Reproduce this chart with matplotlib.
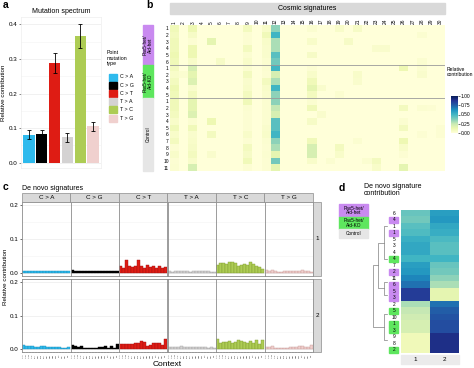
import numpy as np
import matplotlib.pyplot as plt
from matplotlib.patches import Rectangle

plt.rcParams['font.family'] = ['Liberation Sans', 'DejaVu Sans']

W, H = 474, 368

# ---- a: mutation spectrum ----
mut_types = ['C > A', 'C > G', 'C > T', 'T > A', 'T > C', 'T > G']
mut_colors = ['#2EBAED', '#000000', '#DE1C14', '#D4D2D2', '#ADCC54', '#F0D0CE']
spectrum = [0.081, 0.082, 0.289, 0.074, 0.366, 0.105]
spectrum_err = [0.0135, 0.014, 0.029, 0.0135, 0.034, 0.012]

# ---- b: cosmic signature contributions (22 samples x 30 signatures) ----
b_group_names = ['Pax5-het/\nAid-het', 'Pax5-het/\nAid-KO', 'Control']
b_group_sizes = [6, 5, 11]
b_row_labels = [str(i) for i in range(1, 7)] + [str(i) for i in range(1, 6)] + \
    [str(i) for i in range(1, 12)]
sig1 = [0.10, 0.08, 0.10, 0.10, 0.12, 0.10, 0.08, 0.05, 0.08, 0.12, 0.10,
        0.10, 0.10, 0.08, 0.05, 0.10, 0.05, 0.08, 0.02, 0.05, 0.02, 0.03]
sig3 = [0.12, 0.06, 0.02, 0.12, 0.12, 0.05, 0.20, 0.15, 0.18, 0.04, 0.08,
        0.15, 0.15, 0.18, 0.03, 0.10, 0.04, 0.05, 0.06, 0.08, 0.05, 0.20]
sig5 = [0, 0, 0.15, 0, 0, 0, 0, 0, 0, 0, 0,
        0, 0, 0, 0.12, 0, 0.08, 0, 0, 0.04, 0, 0]
sig9 = [0.08, 0.02, 0.02, 0.08, 0.03, 0.05, 0.03, 0.08, 0.04, 0.05, 0.08,
        0.10, 0.03, 0.02, 0.02, 0.02, 0.05, 0.02, 0.08, 0.06, 0.10, 0.02]
sig11 = [0.05, 0.10, 0.05, 0.04, 0.04, 0.03, 0.03, 0.02, 0.08, 0.05, 0.04,
         0.03, 0.03, 0.03, 0.03, 0.04, 0.05, 0.03, 0.02, 0.03, 0.02, 0.02]
sig12 = [0.35, 0.50, 0.30, 0.30, 0.45, 0.40, 0.50, 0.20, 0.30, 0.50, 0.35,
         0.35, 0.25, 0.20, 0.45, 0.45, 0.50, 0.35, 0.30, 0.15, 0.40, 0.15]
sig16 = [0.03, 0, 0.05, 0, 0.06, 0, 0.02, 0.05, 0.10, 0.15, 0.08,
         0.03, 0.10, 0, 0.06, 0, 0, 0.10, 0.20, 0.20, 0.05, 0]
sig26 = [0, 0, 0, 0, 0, 0, 0.12, 0, 0, 0, 0,
         0, 0.08, 0, 0.03, 0.08, 0, 0.12, 0.05, 0.02, 0, 0.15]
# scattered small contributions: (row, signature): value
sig_minor = {(7, 2): 0.03, (5, 6): 0.06, (9, 17): 0.04, (13, 17): 0.04,
             (20, 18): 0.03, (0, 19): 0.05, (10, 19): 0.03, (18, 19): 0.08,
             (19, 19): 0.05, (2, 20): 0.06, (0, 21): 0.06, (7, 21): 0.05,
             (8, 21): 0.04, (17, 21): 0.03, (20, 22): 0.03, (3, 23): 0.04,
             (20, 23): 0.08, (21, 23): 0.05, (3, 24): 0.04, (1, 28): 0.03,
             (5, 28): 0.03, (6, 28): 0.03, (7, 28): 0.04, (12, 28): 0.03,
             (16, 28): 0.02, (12, 29): 0.02, (15, 30): 0.02, (16, 30): 0.02}

# ---- c: de novo signatures (96 trinucleotide profile) ----
sig_profile_1 = {
    'C > A': [.005, .005, .004, .005, .005, .006, .005, .006, .005, .005, .004, .005, .004, .004, .005, .005],
    'C > G': [.008, .005, .004, .006, .004, .005, .004, .005, .004, .004, .005, .004, .004, .004, .004, .006],
    'C > T': [.019, .014, .039, .019, .016, .021, .039, .019, .015, .024, .017, .019, .013, .019, .015, .016],
    'T > A': [.004, .003, .005, .005, .004, .006, .005, .003, .004, .004, .006, .005, .004, .004, .003, .003],
    'T > C': [.023, .028, .030, .027, .031, .031, .028, .020, .022, .025, .024, .031, .026, .020, .016, .012],
    'T > G': [.008, .006, .007, .004, .003, .003, .004, .005, .004, .006, .005, .004, .007, .004, .004, .003],
}
sig_profile_2 = {
    'C > A': [.012, .008, .007, .007, .006, .006, .007, .007, .005, .006, .004, .005, .004, .003, .002, .005],
    'C > G': [.012, .008, .006, .008, .003, .001, .001, .003, .003, .004, .004, .007, .003, .007, .003, .014],
    'C > T': [.015, .013, .014, .015, .015, .018, .017, .022, .020, .009, .012, .016, .017, .016, .012, .028],
    'T > A': [.006, .004, .006, .005, .007, .006, .004, .004, .006, .005, .004, .006, .004, .002, .004, .002],
    'T > C': [.028, .018, .020, .020, .022, .018, .020, .025, .022, .020, .018, .022, .018, .025, .015, .027],
    'T > G': [.006, .004, .008, .003, .002, .002, .003, .003, .004, .004, .006, .008, .008, .006, .005, .011],
}
bases = ['A', 'C', 'G', 'T']
contexts = [f'{a}.{b}' for a in bases for b in bases]
edge_colors = ['#1A8DBA', '#000000', '#A01010', '#A0A0A0', '#7F9A30', '#C89A98']

# ---- d: de novo signature contribution ----
d_labels = ['6', '4', '1', '1', '5', '3', '4', '4', '7', '2', '11',
            '6', '5', '3', '2', '5', '10', '1', '3', '9', '8', '2']
d_groups = ['C', 'H', 'C', 'H', 'C', 'C', 'C', 'K', 'C', 'H', 'C',
            'H', 'H', 'H', 'C', 'K', 'C', 'K', 'K', 'C', 'C', 'K']
contrib_1 = [0.42, 0.40, 0.45, 0.47, 0.52, 0.55, 0.55, 0.50, 0.58, 0.60, 0.65,
             0.70, 0.85, 0.85, 0.30, 0.25, 0.22, 0.20, 0.20, 0.10, 0.10, 0.10]
contrib_2 = [0.58, 0.60, 0.55, 0.53, 0.48, 0.45, 0.45, 0.50, 0.42, 0.40, 0.35,
             0.30, 0.15, 0.15, 0.70, 0.75, 0.78, 0.80, 0.80, 0.90, 0.90, 0.90]
dendro_leaves = {'A1': (0, 4), 'A2': (5, 9), 'B1': (10, 11), 'B2': (12, 13),
                 'C1': (14, 17), 'C2': (18, 21)}
dendro_merges = [('A', 'A1', 'A2', 3.2), ('B', 'B1', 'B2', 3.2),
                 ('C', 'C1', 'C2', 3.2), ('AB', 'A', 'B', 9.0),
                 ('root', 'AB', 'C', 14.0)]
group_colors = {'H': '#C98AF0', 'K': '#5EE65E', 'C': '#E6E6E6'}

fig = plt.figure(figsize=(W / 100, H / 100), dpi=100)


def add_ax(l, t, r, b):
    return fig.add_axes([l / W, 1 - b / H, (r - l) / W, (b - t) / H])


# =========== a ===========
ax = add_ax(21, 17, 101, 168)
xpos = np.arange(1, 7)
ax.bar(xpos, spectrum, width=0.9, color=mut_colors, zorder=2)
ax.errorbar(xpos, spectrum, yerr=spectrum_err, fmt='none', ecolor='black',
            elinewidth=0.6, capsize=1.2, capthick=0.6, zorder=3)
ax.set_xlim(0.4, 6.6)
ax.set_ylim(-0.015, 0.421)
ax.set_yticks([0, 0.1, 0.2, 0.3, 0.4])
ax.set_yticklabels(['0.0', '0.1', '0.2', '0.3', '0.4'])
ax.set_yticks([0.05, 0.15, 0.25, 0.35], minor=True)
ax.set_xticks([])
ax.yaxis.grid(True, which='major', color='#EBEBEB', lw=0.5)
ax.yaxis.grid(True, which='minor', color='#F3F3F3', lw=0.4)
ax.set_axisbelow(True)
for s in ax.spines.values():
    s.set_color('#EEEEEE')
    s.set_linewidth(0.5)
ax.tick_params(axis='y', which='major', labelsize=4.5, length=1.5, width=0.4,
               pad=1, color='#333333')
ax.tick_params(axis='y', which='minor', length=0)
ax.set_ylabel('Relative contribution', fontsize=4.5, labelpad=2)
ax.set_title('Mutation spectrum', fontsize=5, pad=3)

# =========== b ===========
cosmic = np.zeros((22, 30))
for sig, vals in [(1, sig1), (3, sig3), (5, sig5), (9, sig9), (11, sig11),
                  (12, sig12), (16, sig16), (26, sig26)]:
    cosmic[:, sig - 1] = vals
for (row, sig), v in sig_minor.items():
    cosmic[row, sig - 1] = v

bx = add_ax(170, 25, 445, 171)
im = bx.imshow(cosmic, cmap='YlGnBu', vmin=0, vmax=1, aspect='auto',
               interpolation='nearest')
bx.xaxis.tick_top()
bx.set_xticks(np.arange(30))
bx.set_xticklabels([str(i) for i in range(1, 31)], rotation=90, fontsize=3.5)
bx.set_yticks(np.arange(22))
bx.set_yticklabels(b_row_labels, fontsize=3.5)
bx.tick_params(length=0, pad=1)
bx.axhline(5.5, color='#9A9A9A', lw=0.6)
bx.axhline(10.5, color='#9A9A9A', lw=0.6)
for s in bx.spines.values():
    s.set_visible(False)

cax = add_ax(451, 96, 458, 133)
cb = fig.colorbar(im, cax=cax, ticks=[0, 0.25, 0.5, 0.75, 1])
cb.ax.set_yticklabels(['0.00', '0.25', '0.50', '0.75', '1.00'])
cb.ax.tick_params(labelsize=3.5, length=1.2, width=0.4, pad=0.8)
cb.outline.set_visible(False)

# =========== c ===========
c_left, c_w = 22, 48.5
c_rows = [(202, 276), (279, 352)]
for r, prof in enumerate([sig_profile_1, sig_profile_2]):
    top, bot = c_rows[r]
    for c, mt in enumerate(mut_types):
        cx = add_ax(c_left + c * c_w, top, c_left + (c + 1) * c_w, bot)
        cx.bar(np.arange(16), prof[mt], width=0.9, color=mut_colors[c],
               edgecolor=edge_colors[c], linewidth=0.3, zorder=2)
        cx.set_xlim(-0.6, 15.6)
        cx.set_ylim(-0.01, 0.21)
        cx.set_yticks([0, 0.1, 0.2])
        cx.set_yticks([0.05, 0.15], minor=True)
        cx.yaxis.grid(True, which='major', color='#EBEBEB', lw=0.5)
        cx.yaxis.grid(True, which='minor', color='#F3F3F3', lw=0.4)
        cx.set_axisbelow(True)
        for s in cx.spines.values():
            s.set_color('#8C8C8C')
            s.set_linewidth(0.6)
        cx.tick_params(axis='y', which='minor', length=0)
        if c == 0:
            cx.set_yticklabels(['0.0', '0.1', '0.2'])
            cx.tick_params(axis='y', which='major', labelsize=4.5, length=1.5,
                           width=0.4, pad=1)
        else:
            cx.tick_params(axis='y', which='major', left=False,
                           labelleft=False)
        if r == 1:
            cx.set_xticks(np.arange(16))
            cx.set_xticklabels(contexts, rotation=90, fontsize=1.6)
            cx.tick_params(axis='x', length=1, width=0.3, pad=0.5)
        else:
            cx.set_xticks([])

# =========== d ===========
dmat = np.column_stack([contrib_1, contrib_2])
hx = add_ax(401, 210, 459, 353)
hx.imshow(dmat, cmap='YlGnBu', vmin=0, vmax=1, aspect='auto',
          interpolation='nearest')
hx.set_xticks([])
hx.set_yticks([])
for s in hx.spines.values():
    s.set_visible(False)

dx = add_ax(369, 210, 388, 353)
pos = {k: ((lo + hi) / 2, 0.0) for k, (lo, hi) in dendro_leaves.items()}
for name, a, b, h in dendro_merges:
    (ya, ha), (yb, hb) = pos[a], pos[b]
    dx.plot([ha, h, h, hb], [ya, ya, yb, yb], color='#808080', lw=0.5)
    pos[name] = ((ya + yb) / 2, h)
dx.set_xlim(17.7, -1.3)
dx.set_ylim(21.5, -0.5)
dx.axis('off')

# =========== overlay: strips, legends, labels ===========
ov = fig.add_axes([0, 0, 1, 1])
ov.set_xlim(0, W)
ov.set_ylim(H, 0)
ov.axis('off')
ov.patch.set_alpha(0)

# panel letters
for lab, (px, py) in zip('abcd', [(3, 5), (146, 5), (3, 187), (339, 188)]):
    ov.text(px, py, lab, fontsize=7.5, fontweight='bold', va='center')

# a legend
ov.text(107, 58, 'Point\nmutation\ntype', fontsize=3.8, va='center',
        linespacing=1.0)
for i, (mt, col) in enumerate(zip(mut_types, mut_colors)):
    yc = 77 + i * 8.2
    ov.add_patch(Rectangle((109, yc - 3.5), 8, 7, color=col))
    ov.text(120, yc, mt, fontsize=3.8, va='center')

# b strips
ov.add_patch(Rectangle((170, 3), 275, 11, color='#D9D9D9'))
ov.text(307.5, 8.5, 'Cosmic signatures', fontsize=5, ha='center', va='center')
row_h = 146 / 22
y0 = 25
for name, n, key in zip(b_group_names, b_group_sizes, ['H', 'K', 'C']):
    ov.add_patch(Rectangle((143, y0), 10, n * row_h, color=group_colors[key]))
    ov.text(148, y0 + n * row_h / 2, name, fontsize=3.4, rotation=90,
            ha='center', va='center', linespacing=1.0)
    y0 += n * row_h
ov.text(447, 72, 'Relative\ncontribution', fontsize=3.6, va='center',
        linespacing=1.0)

# c strips and labels
ov.text(22, 188, 'De novo signatures', fontsize=5, va='center')
for c, mt in enumerate(mut_types):
    ov.add_patch(Rectangle((c_left + c * c_w, 193), c_w, 9, facecolor='#D9D9D9',
                           edgecolor='#8C8C8C', lw=0.5))
    ov.text(c_left + (c + 0.5) * c_w, 197.5, mt, fontsize=4.5, ha='center',
            va='center')
for r, (top, bot) in enumerate(c_rows):
    ov.add_patch(Rectangle((313.5, top), 7.5, bot - top, facecolor='#D9D9D9',
                           edgecolor='#8C8C8C', lw=0.5))
    ov.text(317.2, (top + bot) / 2, str(r + 1), fontsize=4.5, ha='center',
            va='center')
ov.text(6, 277, 'Relative contribution', fontsize=4.5, rotation=90,
        ha='center', va='center')
ov.text(167, 365, 'Context', fontsize=6, ha='center', va='center')

# d legend, labels
ov.text(364, 190, 'De novo signature\ncontribution', fontsize=5, va='center',
        linespacing=1.0)
for key, txt, (t, h) in [('H', 'Pax5-het/\nAid-het', (204, 13)),
                         ('K', 'Pax5-het/\nAid-KO', (217, 12)),
                         ('C', 'Control', (229, 9))]:
    ov.add_patch(Rectangle((339, t), 29, h, color=group_colors[key]))
    ov.text(353.5, t + h / 2, txt, fontsize=3.4, ha='center', va='center',
            linespacing=1.0)
d_row_h = 143 / 22
for i, (lab, g) in enumerate(zip(d_labels, d_groups)):
    yc = 210 + (i + 0.5) * d_row_h
    if g != 'C':
        ov.add_patch(Rectangle((389.5, yc - 3.1), 9, 6.2, color=group_colors[g]))
    ov.text(394, yc, lab, fontsize=3.5, ha='center', va='center')
ov.add_patch(Rectangle((401, 355), 58, 9, color='#EBEBEB'))
ov.text(415.5, 359.5, '1', fontsize=4.5, ha='center', va='center')
ov.text(444.5, 359.5, '2', fontsize=4.5, ha='center', va='center')

fig.savefig('out.png', dpi=100)
